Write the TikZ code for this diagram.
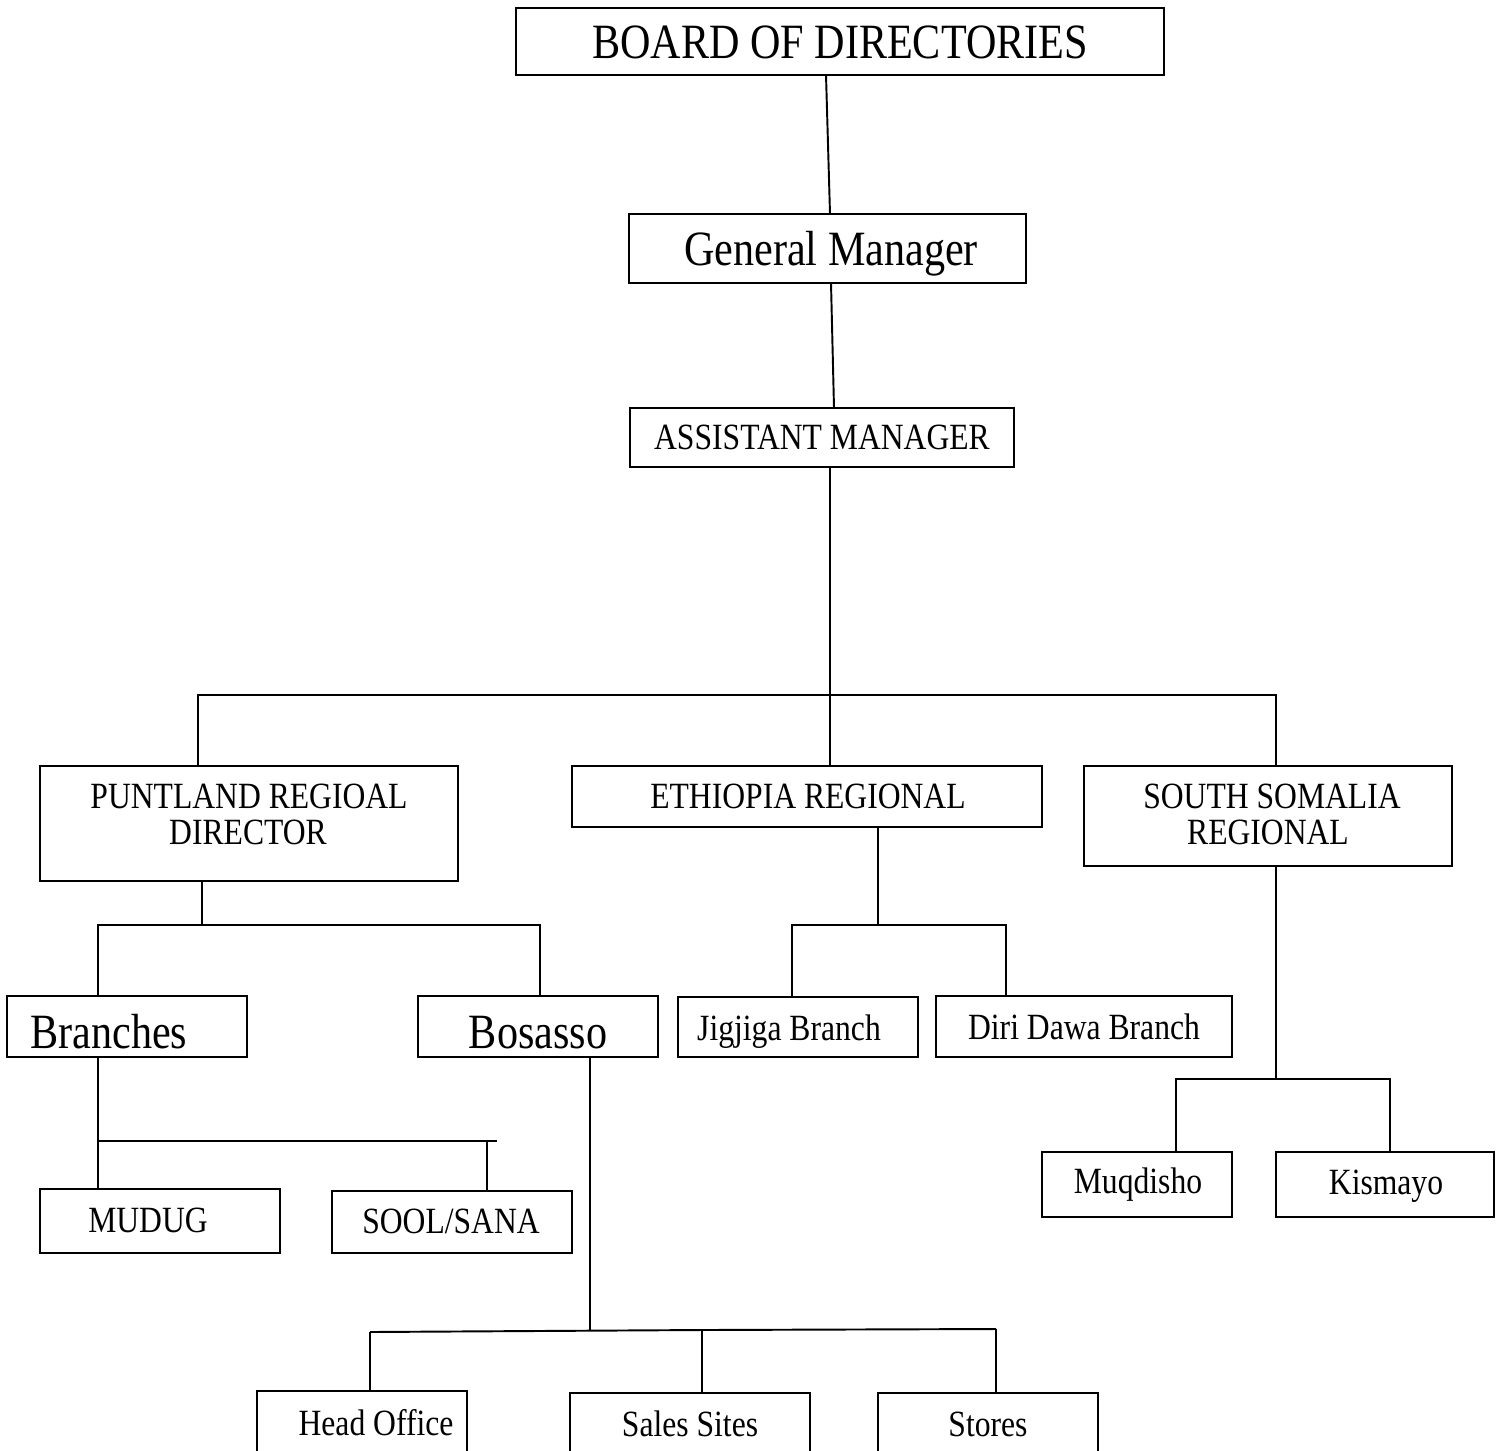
\documentclass[tikz,border=0pt]{standalone}
\usepackage{fontspec}
\setmainfont{Liberation Serif}
\usetikzlibrary{fit,calc}
\newcommand{\lgtxt}[1]{\scalebox{1}[1.17]{\fontsize{24}{29}\selectfont #1}}
\newcommand{\smtxt}[1]{\scalebox{1}[1.17]{\fontsize{18}{22}\selectfont #1}}
\tikzset{
  box/.style={draw, line width=1.1pt, inner sep=0pt, outer sep=0pt, rectangle},
  lbl/.style={inner sep=0pt, anchor=base},
  conn/.style={line width=1.1pt}
}
\begin{document}
\begin{tikzpicture}[x=0.02cm,y=-0.02cm]
\useasboundingbox (0,0) rectangle (1503,1450);
\clip (0,0) rectangle (1503,1450);
% boxes
\node[box, fit={(516,8) (1164,75)}] (board) {};
\node[box, fit={(629,214) (1026,283)}] (gm) {};
\node[box, fit={(630,408) (1014,467)}] (am) {};
\node[box, fit={(40,766) (458,881)}] (pr) {};
\node[box, fit={(572,766) (1042,827)}] (et) {};
\node[box, fit={(1084,766) (1452,866)}] (ss) {};
\node[box, fit={(7,996) (247,1057)}] (br) {};
\node[box, fit={(418,996) (658,1057)}] (bo) {};
\node[box, fit={(678,997) (918,1057)}] (jj) {};
\node[box, fit={(936,996) (1232,1057)}] (dd) {};
\node[box, fit={(1042,1152) (1232,1217)}] (mq) {};
\node[box, fit={(1276,1152) (1494,1217)}] (ki) {};
\node[box, fit={(40,1189) (280,1253)}] (mu) {};
\node[box, fit={(332,1191) (572,1253)}] (so) {};
\node[box, fit={(257,1391) (467,1490)}] (ho) {};
\node[box, fit={(570,1393) (810,1490)}] (sa) {};
\node[box, fit={(878,1393) (1098,1490)}] (st) {};
% labels (baselines)
\node[lbl] (tboard) at (840,58) {\lgtxt{BOARD OF DIRECTORIES}};
\node[lbl] (tgm) at (831,265) {\lgtxt{General Manager}};
\node[lbl] (tam) at (822,449) {\smtxt{ASSISTANT MANAGER}};
\node[lbl] (tpr1) at (249,808) {\smtxt{PUNTLAND REGIOAL}};
\node[lbl] (tpr2) at (248,844) {\smtxt{DIRECTOR}};
\node[lbl] (tet) at (808,808) {\smtxt{ETHIOPIA REGIONAL}};
\node[lbl] (tss1) at (1272,808) {\smtxt{SOUTH SOMALIA}};
\node[lbl] (tss2) at (1268,844) {\smtxt{REGIONAL}};
\node[lbl, anchor=base west] (tbr) at (30,1048) {\lgtxt{Branches}};
\node[lbl] (tbo) at (538,1048) {\lgtxt{Bosasso}};
\node[lbl] (tjj) at (789,1040) {\smtxt{Jigjiga Branch}};
\node[lbl] (tdd) at (1084,1039) {\smtxt{Diri Dawa Branch}};
\node[lbl] (tmq) at (1138,1193) {\smtxt{Muqdisho}};
\node[lbl] (tki) at (1386,1194) {\smtxt{Kismayo}};
\node[lbl] (tmu) at (148,1232) {\smtxt{MUDUG}};
\node[lbl] (tso) at (451,1233) {\smtxt{SOOL/SANA}};
\node[lbl] (tho) at (376,1435) {\smtxt{Head Office}};
\node[lbl] (tsa) at (690,1436) {\smtxt{Sales Sites}};
\node[lbl] (tst) at (988,1436) {\smtxt{Stores}};
% junction coordinates
\coordinate (jA) at (830,695);
\coordinate (jP) at (202,925);
\coordinate (jE) at (878,925);
\coordinate (jS) at (1276,1079);
\coordinate (jB) at (98,1141);
\coordinate (jBe) at (497,1141);
\coordinate (jO) at (590,1331);
\coordinate (jOl) at (370,1332);
\coordinate (jOm) at (702,1330);
\coordinate (jOr) at (996,1329);
% connectors
\draw[conn] ($(board.south west)+(310,0)$) -- ($(gm.north west)+(201,0)$);
\draw[conn] ($(gm.south west)+(202,0)$) -- ($(am.north west)+(204,0)$);
\draw[conn] ($(am.south west)+(200,0)$) -- (jA) -- ($(et.north west)+(258,0)$);
\draw[conn] ($(pr.north west)+(158,0)$) |- (jA) -| ($(ss.north west)+(192,0)$);
\draw[conn] ($(pr.south west)+(162,0)$) -- (jP);
\draw[conn] ($(br.north west)+(91,0)$) |- (jP) -| ($(bo.north west)+(122,0)$);
\draw[conn] ($(et.south west)+(306,0)$) -- (jE);
\draw[conn] ($(jj.north west)+(114,0)$) |- (jE) -| ($(dd.north west)+(70,0)$);
\draw[conn] ($(ss.south west)+(192,0)$) -- (jS);
\draw[conn] ($(mq.north west)+(134,0)$) |- (jS) -| ($(ki.north west)+(114,0)$);
\draw[conn] ($(br.south west)+(91,0)$) -- ($(mu.north west)+(58,0)$);
\draw[conn] (jB) -- (jBe);
\draw[conn] ($(so.north west)+(155,-50)$) -- ($(so.north west)+(155,0)$);
\draw[conn] ($(bo.south west)+(172,0)$) -- (jO);
\draw[conn] (jOl) -- (jOm) -- (jOr);
\draw[conn] (jOl) -- ($(ho.north west)+(113,0)$);
\draw[conn] (jOm) -- ($(sa.north west)+(132,0)$);
\draw[conn] (jOr) -- ($(st.north west)+(118,0)$);
\end{tikzpicture}
\end{document}
